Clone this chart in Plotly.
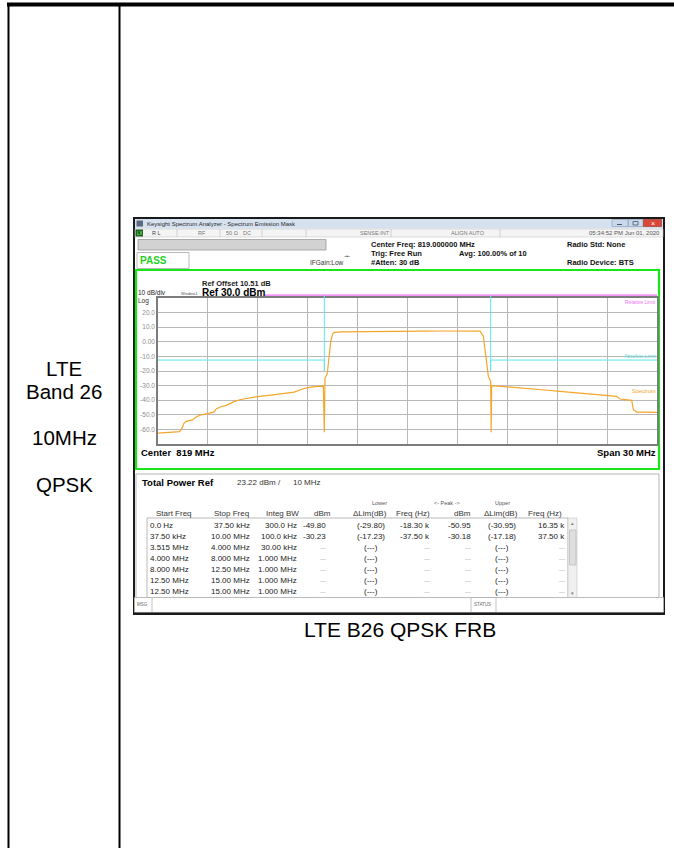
import plotly.graph_objects as go

W, H = 674, 848
FONT = "Liberation Sans, Arial, sans-serif"

# ---------------- data ----------------
row_labels = ["LTE", "Band 26", "10MHz", "QPSK"]
caption = "LTE B26 QPSK FRB"

x_start_mhz, x_stop_mhz = 804, 834
y_bottom_dbm, y_ref_dbm = -70, 30
y_tick_vals = [20, 10, 0, -10, -20, -30, -40, -50, -60]
y_tick_text = ["20.0", "10.0", "0.00", "-10.0", "-20.0", "-30.0", "-40.0", "-50.0", "-60.0"]

freq_mhz = [804.0, 804.5, 805.0, 805.3, 805.45, 805.55, 805.7, 806.06, 806.3, 806.57,
            807.0, 807.37, 807.5, 807.77, 808.1, 808.57, 808.97, 809.5, 809.97, 810.8,
            811.57, 812.18, 812.78, 813.18, 813.6, 813.94, 814.0, 814.04, 814.18, 814.3,
            814.38, 814.5, 814.6, 815.0, 816.0, 817.0, 818.0, 819.0, 820.0, 821.0,
            822.0, 823.0, 823.36, 823.56, 823.66, 823.76, 823.86, 824.0, 824.03, 824.06,
            824.96, 825.8, 826.57, 827.4, 828.17, 829.0, 829.77, 830.17, 830.9, 831.58,
            831.78, 832.48, 832.58, 832.78, 833.4, 834.0]
level_dbm = [-62.5, -62.3, -62.0, -61.5, -59.0, -56.0, -54.5, -53.5, -51.5, -50.0,
             -49.2, -48.0, -46.0, -44.5, -43.5, -41.0, -39.5, -38.5, -37.5, -36.5,
             -35.5, -34.5, -32.0, -31.0, -30.5, -30.3, -62.0, -25.0, -21.5, -10.0,
             0.0, 5.5, 6.5, 6.8, 7.0, 7.1, 7.2, 7.3, 7.3, 7.4,
             7.5, 7.5, 7.3, 3.8, -5.4, -16.8, -23.7, -27.1, -62.0, -30.0,
             -31.0, -31.8, -32.4, -33.2, -34.0, -34.8, -35.5, -36.2, -36.8, -37.4,
             -39.2, -40.1, -46.5, -48.1, -48.2, -48.3]

abs_limit_left_freq = [804, 814, 814, 814]
abs_limit_left_dbm = [-12.5, -12.5, -20.0, 32.0]
abs_limit_right_freq = [824, 824, 824, 834]
abs_limit_right_dbm = [32.0, -20.0, -12.5, -12.5]
rel_limit_freq = [810.4, 834]
rel_limit_dbm = [32.0, 32.0]

header_texts = {
    "center": "Center Freq: 819.000000 MHz",
    "trig": "Trig: Free Run",
    "atten": "#Atten: 30 dB",
    "avg": "Avg: 100.00% of 10",
    "std": "Radio Std: None",
    "dev": "Radio Device: BTS",
}
total_power = "23.22 dBm /"
total_bw = "10 MHz"

col_headers = ["Start Freq", "Stop Freq", "Integ BW", "dBm", "\u0394Lim(dB)", "Freq (Hz)",
               "dBm", "\u0394Lim(dB)", "Freq (Hz)"]
start_freq = ["0.0 Hz", "37.50 kHz", "3.515 MHz", "4.000 MHz", "8.000 MHz", "12.50 MHz", "12.50 MHz"]
stop_freq = ["37.50 kHz", "10.00 MHz", "4.000 MHz", "8.000 MHz", "12.50 MHz", "15.00 MHz", "15.00 MHz"]
integ_bw = ["300.0 Hz", "100.0 kHz", "30.00 kHz", "1.000 MHz", "1.000 MHz", "1.000 MHz", "1.000 MHz"]
lower_dbm = ["-49.80", "-30.23", "---", "---", "---", "---", "---"]
lower_dlim = ["(-29.80)", "(-17.23)", "(---)", "(---)", "(---)", "(---)", "(---)"]
lower_freq = ["-18.30 k", "-37.50 k", "---", "---", "---", "---", "---"]
upper_dbm = ["-50.95", "-30.18", "---", "---", "---", "---", "---"]
upper_dlim = ["(-30.95)", "(-17.18)", "(---)", "(---)", "(---)", "(---)", "(---)"]
upper_freq = ["16.35 k", "37.50 k", "---", "---", "---", "---", "---"]


# ---------------- helpers (pixel -> paper) ----------------
def px(x):
    return x / W


def py(y):
    return 1 - y / H


shapes = []
ann = []


def rect(x0, y0, x1, y1, fill=None, line=None, lw=1.0, layer="below"):
    shapes.append(dict(type="rect", xref="paper", yref="paper",
                       x0=px(x0), x1=px(x1), y0=py(y1), y1=py(y0),
                       fillcolor=fill or "rgba(0,0,0,0)",
                       line=dict(color=line or "rgba(0,0,0,0)", width=lw if line else 0),
                       layer=layer))


def seg(x0, y0, x1, y1, color="#000", lw=1.0, layer="below"):
    shapes.append(dict(type="line", xref="paper", yref="paper",
                       x0=px(x0), x1=px(x1), y0=py(y0), y1=py(y1),
                       line=dict(color=color, width=lw), layer=layer))


def text(x, y, s, size, color="#000", xa="left", bold=False, ya="middle"):
    ann.append(dict(xref="paper", yref="paper", x=px(x), y=py(y),
                    text=("<b>%s</b>" % s) if bold else s, showarrow=False,
                    xanchor=xa, yanchor=ya, borderpad=0,
                    font=dict(family=FONT, size=size, color=color)))


# ---------------- document table ----------------
seg(7, 4.5, 674, 4.5, "#000", 4)
seg(8.5, 3, 8.5, 848, "#000", 2)
seg(119.5, 3, 119.5, 848, "#000", 2)

label_y = [368.5, 391.5, 437.5, 484.5]
for lab, yy in zip(row_labels, label_y):
    text(64, yy, lab, 20.5, "#000", xa="center")

text(399.5, 629.5, caption, 21, "#000", xa="center")

# ---------------- analyzer window ----------------
rect(134, 218, 664, 614, fill="#ffffff", line="#1a1a1a", lw=2)
# title bar
rect(135, 219, 663, 228.5, fill="#d5e1ef")
rect(136.5, 220.5, 143, 226.5, fill="#5a6a80")
text(146, 224, "Keysight Spectrum Analyzer - Spectrum Emission Mask", 6, "#2a2a2a")
rect(612, 219.5, 628, 226.5, fill="#c9d8ea", line="#8a9bb0", lw=0.6)
rect(628.5, 219.5, 643, 226.5, fill="#c9d8ea", line="#8a9bb0", lw=0.6)
rect(643.5, 219.5, 661.5, 226.5, fill="#d9473a", line="#9a2a20", lw=0.6)
seg(617, 224.5, 622, 224.5, "#4a5a70", 1)
rect(633, 221.5, 638, 225, line="#4a5a70", lw=0.8)
text(652.5, 223, "\u00d7", 7, "#ffffff", xa="center")

# status row
rect(135, 229, 663, 237, fill="#f4f4f4", line="#c8c8c8", lw=0.6)
rect(135.5, 229.5, 143, 236.5, fill="#1f5f1f")
text(136, 233, "LX", 4.5, "#7fff7f")
for xd in [177, 220, 262, 306, 391, 500]:
    seg(xd, 229, xd, 237, "#c0c0c0", 0.7)
text(151, 233, "R L", 5.5, "#444")
text(197, 233, "RF", 5.5, "#777")
text(225, 233, "50 \u03a9", 5.5, "#777")
text(242, 233, "DC", 5.5, "#777")
text(359, 233, "SENSE:INT", 5.5, "#777")
text(450, 233, "ALIGN AUTO", 5.5, "#777")
text(661, 233, "05:34:52 PM Jun 01, 2020", 6, "#555", xa="right")

# header
rect(138, 239.5, 326, 250, fill="#d2d2d2", line="#9a9a9a", lw=0.8)
rect(137, 252.5, 189, 268.5, fill="#ffffff", line="#a8a8a8", lw=0.8)
text(139, 260.5, "PASS", 10, "#1fd11f", bold=True)
text(309, 262.5, "IFGain:Low", 6.5, "#333")
text(343, 256, "-\u2022-", 6, "#333")
text(370, 244, header_texts["center"], 7.5, "#111", bold=True)
text(370, 253, header_texts["trig"], 7.5, "#111", bold=True)
text(370, 262, header_texts["atten"], 7.5, "#111", bold=True)
text(458, 253, header_texts["avg"], 7.5, "#111", bold=True)
text(566, 244, header_texts["std"], 7.5, "#111", bold=True)
text(566, 262, header_texts["dev"], 7.5, "#111", bold=True)

# green border around the trace window
rect(136, 270, 659, 469, line="#19e619", lw=2.2)
text(201, 283, "Ref Offset 10.51 dB", 7.5, "#222", bold=True)
text(137, 293, "10 dB/div", 6.5, "#222")
text(199.5, 293.5, "Window1", 4, "#555", xa="right")
text(201, 293, "Ref 30.0 dBm", 10, "#000", bold=True)
text(137, 300.5, "Log", 6.5, "#333")
text(140, 452, "Center\u00a0 819 MHz", 9.5, "#000", bold=True)
text(657, 452, "Span 30 MHz", 9.5, "#000", xa="right", bold=True)

# lower results panel
rect(136, 474, 659, 597.5, line="#b4b4b4", lw=1)
text(141, 482, "Total Power Ref", 9.5, "#000", bold=True)
text(236, 482, total_power, 8, "#333")
text(292, 482, total_bw, 8, "#333")
text(379, 503, "Lower", 5.5, "#555", xa="center")
text(447, 503, "&lt;- Peak -&gt;", 5.5, "#555", xa="center")
text(502, 503, "Upper", 5.5, "#555", xa="center")

hdr_x = [155, 250, 300, 322, 370, 413, 462, 501, 545]
hdr_a = ["left", "right", "right", "center", "center", "center", "center", "center", "center"]
for s, xx, aa in zip(col_headers, hdr_x, hdr_a):
    text(xx, 513, s, 8, "#333", xa=aa)

rect(147, 518, 568, 597.5, fill="#ffffff", line="#a8a8a8", lw=0.8)
rect(568, 518, 577, 597.5, fill="#f0f0f0", line="#c4c4c4", lw=0.6)
rect(569.5, 530, 576, 565, fill="#dedede", line="#b0b0b0", lw=0.6)
text(572.8, 523, "\u25b4", 5, "#777", xa="center")
text(572.8, 593, "\u25be", 5, "#777", xa="center")

cols = [start_freq, stop_freq, integ_bw, lower_dbm, lower_dlim, lower_freq,
        upper_dbm, upper_dlim, upper_freq]
col_x = [149, 251, 298, 327, 371, 431, 472, 502, 566]
col_a = ["left", "right", "right", "right", "center", "right", "right", "center", "right"]
row_y = [525.5, 536.5, 547.5, 558.5, 569.5, 580.5, 591.5]
for col, xx, aa in zip(cols, col_x, col_a):
    for val, yy in zip(col, row_y):
        if val == "---":
            text(xx, yy, "---", 6, "#9a9a9a", xa=aa)
        else:
            text(xx, yy, val, 8, "#222", xa=aa)

# message bar
rect(134.5, 597.5, 663.5, 612.5, fill="#ffffff", line="#b4b4b4", lw=0.8, layer="above")
seg(152, 597.5, 152, 612.5, "#b4b4b4", 0.8, layer="above")
rect(471, 597.5, 496, 612.5, line="#b4b4b4", lw=0.8, layer="above")
text(135.5, 604, "MSG", 4.5, "#666")
text(473, 604, "STATUS", 4.5, "#666")
seg(134, 613.5, 664, 613.5, "#1a1a1a", 2, layer="above")

# ---------------- figure ----------------
fig = go.Figure()
fig.add_trace(go.Scatter(x=freq_mhz, y=level_dbm, mode="lines",
                         line=dict(color="#f5a52a", width=1.2), xaxis="x", yaxis="y",
                         hoverinfo="skip"))
fig.add_trace(go.Scatter(x=abs_limit_left_freq, y=abs_limit_left_dbm, mode="lines",
                         line=dict(color="#5fe6f2", width=1), xaxis="x2", yaxis="y2"))
fig.add_trace(go.Scatter(x=abs_limit_right_freq, y=abs_limit_right_dbm, mode="lines",
                         line=dict(color="#5fe6f2", width=1), xaxis="x2", yaxis="y2"))
fig.add_trace(go.Scatter(x=rel_limit_freq, y=rel_limit_dbm, mode="lines",
                         line=dict(color="#f070f0", width=1.2), xaxis="x2", yaxis="y2"))

PLOT_L, PLOT_R, PLOT_T, PLOT_B = 158, 657, 298, 444
px_per_db = (PLOT_B - PLOT_T) / (y_ref_dbm - y_bottom_dbm)
TOP2 = 290
y2_top = y_ref_dbm + (PLOT_T - TOP2) / px_per_db

# limit-line labels
ann.append(dict(xref="x", yref="y", x=x_stop_mhz, y=y_ref_dbm, text="Relative Limit",
                showarrow=False, xanchor="right", yanchor="top", borderpad=0,
                font=dict(family=FONT, size=5, color="#f070f0")))
ann.append(dict(xref="x", yref="y", x=x_stop_mhz, y=abs_limit_right_dbm[-1], text="Absolute Limit",
                showarrow=False, xanchor="right", yanchor="bottom", borderpad=0,
                font=dict(family=FONT, size=5, color="#5fd6e2")))
ann.append(dict(xref="x", yref="y", x=x_stop_mhz, y=-34, text="Spectrum",
                showarrow=False, xanchor="right", yanchor="middle", borderpad=0,
                font=dict(family=FONT, size=5.5, color="#f5a52a")))

fig.update_layout(
    width=W, height=H, margin=dict(l=0, r=0, t=0, b=0),
    paper_bgcolor="#ffffff", plot_bgcolor="rgba(0,0,0,0)",
    showlegend=False,
    xaxis=dict(domain=[px(PLOT_L), px(PLOT_R)], range=[x_start_mhz, x_stop_mhz],
               tick0=x_start_mhz, dtick=3, showgrid=True, gridcolor="#b8b8b8", gridwidth=1,
               showticklabels=False, ticks="", zeroline=False,
               showline=True, linecolor="#7c7c7c", linewidth=1.5, mirror=True, anchor="y"),
    yaxis=dict(domain=[py(PLOT_B), py(PLOT_T)], range=[y_bottom_dbm, y_ref_dbm],
               tickvals=y_tick_vals, ticktext=y_tick_text, ticks="",
               tickfont=dict(family=FONT, size=6.5, color="#8c8c8c"),
               showgrid=True, gridcolor="#b8b8b8", gridwidth=1, zeroline=False,
               showline=True, linecolor="#7c7c7c", linewidth=1.5, mirror=True, anchor="x"),
    xaxis2=dict(domain=[px(PLOT_L), px(PLOT_R)], range=[x_start_mhz, x_stop_mhz],
                visible=False, anchor="y2"),
    yaxis2=dict(domain=[py(PLOT_B), py(TOP2)], range=[y_bottom_dbm, y2_top],
                visible=False, anchor="x2"),
    shapes=shapes,
    annotations=ann,
)

fig.write_html("out.html", config={"displayModeBar": False},
               post_script="document.body.style.margin='0';document.body.style.overflow='hidden';")
